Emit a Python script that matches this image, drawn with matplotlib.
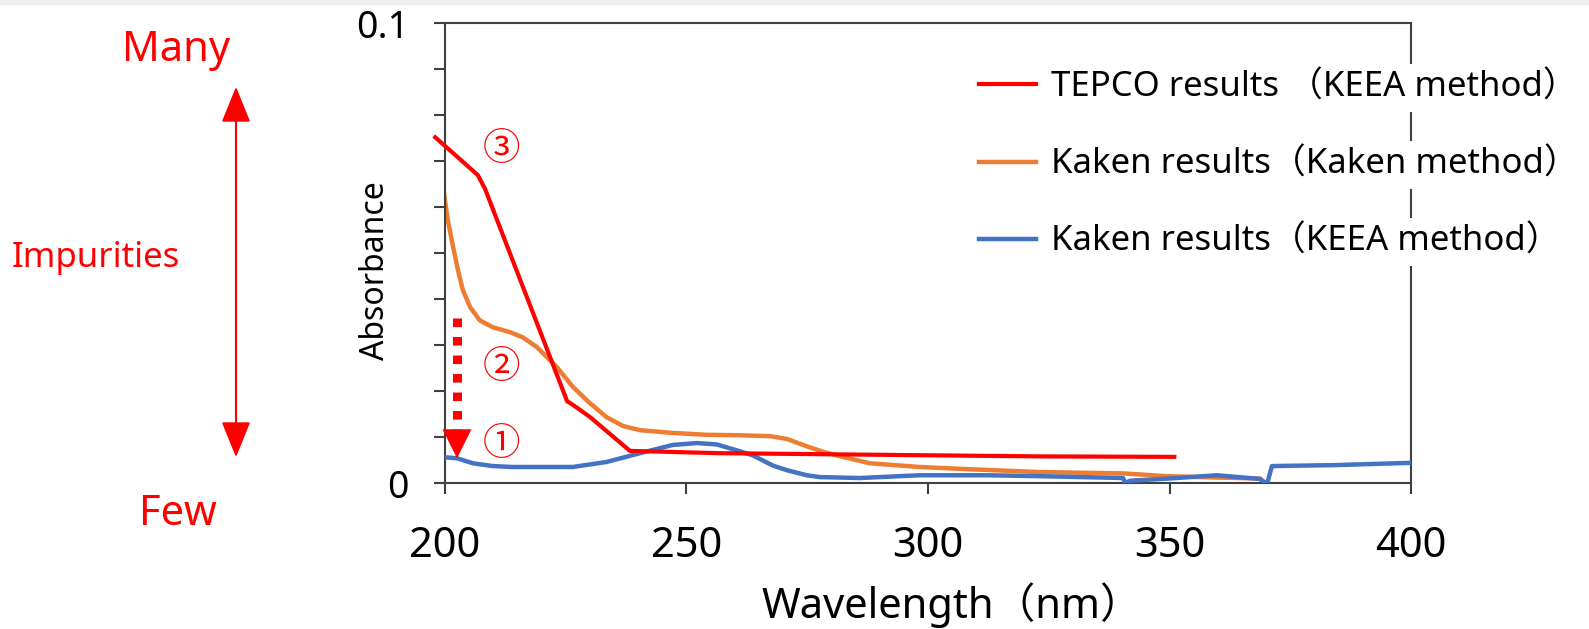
import numpy as np
import matplotlib.pyplot as plt
from matplotlib.patches import Rectangle, FancyArrowPatch

plt.rcParams['font.family'] = ['Noto Sans', 'Noto Sans CJK JP', 'DejaVu Sans']

# TEPCO results (KEEA method)
tepco_x = [198.0, 206.8, 208.3, 225.3, 226.5, 230.0, 238.3, 256.9, 323.2, 351.0]
tepco_y = [0.0752, 0.0670, 0.0640, 0.0178, 0.0170, 0.0144, 0.0070, 0.0065, 0.0058, 0.0057]

# Kaken results (Kaken method)
kaken_x = [199.8, 200.0, 200.6, 201.7, 202.7, 203.7, 205.2, 207.2, 209.9, 213.5,
           216.1, 219.0, 221.1, 223.2, 226.5, 230.0, 233.5, 236.9, 240.4, 247.2,
           254.2, 261.1, 267.3, 270.8, 274.9, 278.3, 281.5, 288.0, 298.3, 308.7,
           323.2, 340.4, 349.5, 359.8, 368.7, 370.4]
kaken_y = [0.0633, 0.0615, 0.0572, 0.0513, 0.0463, 0.0420, 0.0383, 0.0354, 0.0339, 0.0328,
           0.0317, 0.0296, 0.0274, 0.0252, 0.0209, 0.0174, 0.0143, 0.0124, 0.0115, 0.0109,
           0.0105, 0.0104, 0.0102, 0.0096, 0.0080, 0.0068, 0.0059, 0.0043, 0.0035, 0.0030,
           0.0024, 0.0021, 0.0015, 0.0012, 0.0010, -0.0006]

# Kaken results (KEEA method)
keea_x = [200.0, 202.5, 205.8, 209.9, 214.0, 219.7, 226.5, 233.5, 240.4, 247.2,
          252.2, 256.3, 261.1, 263.8, 267.9, 270.8, 274.9, 277.6, 281.8, 285.9,
          298.3, 312.2, 323.2, 340.4, 340.8, 341.8, 350.0, 359.8, 368.7, 370.2,
          371.2, 383.9, 400.0]
keea_y = [0.0056, 0.0054, 0.0043, 0.0037, 0.0035, 0.0035, 0.0035, 0.0046, 0.0065, 0.0083,
          0.0087, 0.0084, 0.0069, 0.0060, 0.0038, 0.0028, 0.0017, 0.0013, 0.0012, 0.0011,
          0.0017, 0.0017, 0.0015, 0.0011, 0.0000, 0.0005, 0.0010, 0.0017, 0.0009, -0.0002,
          0.0037, 0.0039, 0.0044]

labels = ["TEPCO results （KEEA method）",
          "Kaken results（Kaken method）",
          "Kaken results（KEEA method）"]
colors = ["#FF0000", "#ED7D31", "#4472C4"]

fig = plt.figure(figsize=(15.89, 6.29), dpi=100)
fig.patches.append(Rectangle((0, 0.994), 1, 0.006, transform=fig.transFigure,
                             color="#eeeeee", zorder=0))
ax = fig.add_axes([0.280, 0.232, 0.608, 0.731])

ax.plot(keea_x, keea_y, color=colors[2], lw=3.2, label=labels[2], zorder=3,
        solid_joinstyle='round')
ax.plot(kaken_x, kaken_y, color=colors[1], lw=3.2, label=labels[1], zorder=2,
        solid_joinstyle='round')
ax.plot(tepco_x, tepco_y, color=colors[0], lw=3.0, label=labels[0], zorder=4, clip_on=False)

ax.set_xlim(200, 400)
ax.set_ylim(0, 0.1)
ax.set_xticks([200, 250, 300, 350, 400])
yt = np.round(np.arange(0, 0.101, 0.01), 2)
ax.set_yticks(yt)
ax.set_yticklabels(["0"] + [""] * 9 + ["0.1"])
ax.tick_params(axis='x', direction='out', length=8, width=1.5, color="#404040",
               labelsize=30, pad=22)
ax.tick_params(axis='y', direction='out', length=8, width=1.5, color="#404040",
               labelsize=27, pad=18)
for s in ax.spines.values():
    s.set_color("#404040")
    s.set_linewidth(1.5)

ax.set_xlabel("Wavelength（nm）", fontsize=30)
ax.xaxis.set_label_coords(0.525, -0.215)
ax.set_ylabel("Absorbance", fontsize=23)
ax.yaxis.set_label_coords(-0.055, 0.463)

# legend (text boxes with white fill hide part of the right spine)
h, l = ax.get_legend_handles_labels()
order = [2, 1, 0]
leg = ax.legend([h[i] for i in order], [l[i] for i in order], loc='upper left',
                bbox_to_anchor=(0.52, 0.965), frameon=False, fontsize=25,
                handlelength=1.65, handletextpad=0.45, labelspacing=1.24)
leg.set_zorder(10)
for t in leg.get_texts():
    t.set_bbox(dict(facecolor='white', edgecolor='none', pad=5))

# circled markers
ax.text(211.8, 0.0725, "③", color="red", fontsize=27, ha='center', va='center')
ax.text(211.8, 0.0250, "②", color="red", fontsize=27, ha='center', va='center')
ax.text(211.8, 0.0083, "①", color="red", fontsize=27, ha='center', va='center')

# dotted arrow
ax.plot([202.5, 202.5], [0.0359, 0.0112], color="red", lw=6.5, ls=(0, (0.95, 1.1)),
        solid_capstyle='butt', dash_capstyle='butt')
ax.annotate("", xy=(202.5, 0.0054), xytext=(202.5, 0.0115),
            arrowprops=dict(arrowstyle="-|>,head_length=1.0,head_width=0.5",
                            color="red", lw=0.5, shrinkA=0, shrinkB=0,
                            mutation_scale=20))

# impurities annotation on the left
fig.text(176 / 1589, 1 - 50 / 629, "Many", color="red", fontsize=30, ha='center', va='center')
fig.text(96 / 1589, 1 - 258 / 629, "Impurities", color="red", fontsize=25, ha='center', va='center')
fig.text(178 / 1589, 1 - 514 / 629, "Few", color="red", fontsize=30, ha='center', va='center')
fig.add_artist(FancyArrowPatch(
    (236 / 1589, 1 - 84 / 629), (236 / 1589, 1 - 460 / 629), transform=fig.transFigure,
    arrowstyle="<|-|>,head_length=1.6,head_width=0.65", color="red", lw=1.5,
    mutation_scale=14))

fig.savefig("out.png", dpi=100)
